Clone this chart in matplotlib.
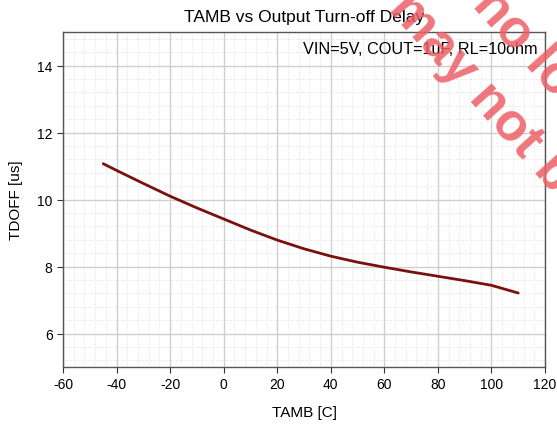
import matplotlib
matplotlib.use("Agg")
import matplotlib.pyplot as plt
from matplotlib.ticker import AutoMinorLocator

plt.rcParams["font.family"] = ["Liberation Sans", "DejaVu Sans"]
plt.rcParams["axes.unicode_minus"] = False

# data
tamb = [-45, -40, -30, -20, -10, 0, 10, 20, 30, 40, 50, 60, 70, 80, 90, 100, 110]
tdoff = [11.07, 10.87, 10.48, 10.10, 9.75, 9.42, 9.09, 8.79, 8.53, 8.31, 8.13,
         7.98, 7.84, 7.71, 7.58, 7.44, 7.21]

xticks = [-60, -40, -20, 0, 20, 40, 60, 80, 100, 120]
yticks = [6, 8, 10, 12, 14]

fig = plt.figure(figsize=(5.57, 4.27), dpi=100)
ax = fig.add_axes([0.1131, 0.138, 0.8654, 0.7847])

ax.plot(tamb, tdoff, color="#7a1010", linewidth=2.0, zorder=3,
        solid_joinstyle="round", solid_capstyle="round")

ax.set_xlim(-60, 120)
ax.set_ylim(5, 15)
ax.set_xticks(xticks)
ax.set_yticks(yticks)
ax.xaxis.set_minor_locator(AutoMinorLocator(5))
ax.yaxis.set_minor_locator(AutoMinorLocator(5))
ax.grid(which="major", color="#cfcfcf", linewidth=1.0)
ax.grid(which="minor", color="#d6d6d6", linewidth=0.6, linestyle=(0, (1, 2)))
ax.set_axisbelow(True)
ax.tick_params(which="minor", length=0)
ax.tick_params(which="major", length=4, color="#333333", labelsize=10, direction="out")

for s in ax.spines.values():
    s.set_color("#555555")
    s.set_linewidth(1.0)

ax.set_title("TAMB vs Output Turn-off Delay", fontsize=12.5, pad=8)
ax.set_xlabel("TAMB [C]", fontsize=11, labelpad=10)
ax.set_ylabel("TDOFF [us]", fontsize=11, labelpad=10)
ax.text(0.985, 0.972, "VIN=5V, COUT=1uF, RL=10ohm", transform=ax.transAxes,
        ha="right", va="top", fontsize=11.7)

# watermark, clipped by the figure edge as in the reference
wm = dict(color="#ec5f66", alpha=0.85, fontsize=38, fontweight="bold",
          rotation=-48, rotation_mode="anchor", ha="left", va="baseline")
fig.text(0.695, 0.978, "may not be", **wm)
fig.text(0.8456, 0.9876, "no longer", **wm)

fig.savefig("out.png", dpi=100)
